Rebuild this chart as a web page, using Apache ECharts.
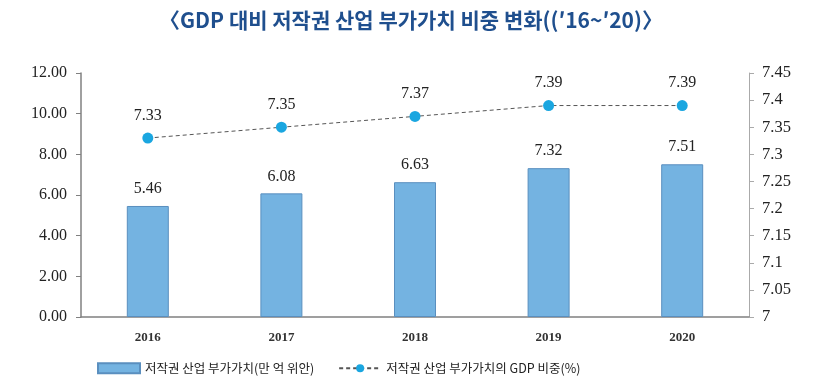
<!DOCTYPE html>
<html><head><meta charset="utf-8">
<script src="https://cdn.jsdelivr.net/npm/echarts@6/dist/echarts.min.js"></script>
<style>html,body{margin:0;padding:0;background:#fff}#c{width:822px;height:383px}</style>
</head><body><div id="c"></div>
<script>
const titleText = '〈GDP 대비 저작권 산업 부가가치 비중 변화((′16~′20)〉';
const categories = ['2016','2017','2018','2019','2020'];
const valueAdded = [5.46, 6.08, 6.63, 7.32, 7.51];
const gdpShare = [7.33, 7.35, 7.37, 7.39, 7.39];
const barName = '저작권 산업 부가가치(만 억 위안)';
const lineName = '저작권 산업 부가가치의 GDP 비중(%)';

const chart = echarts.init(document.getElementById('c'), null, {renderer:'canvas'});
const serif = '"Liberation Serif","Times New Roman",serif';
chart.setOption({
  animation:false,
  title:{text:titleText,left:'center',top:5,textStyle:{fontFamily:'"Noto Sans CJK KR",sans-serif',fontSize:21,fontWeight:'bold',color:'#1f4f8e'}},
  grid:{left:81,right:73,top:73,bottom:66},
  legend:{left:92,top:357,itemWidth:42,itemHeight:10,itemGap:24,
    textStyle:{fontFamily:'"Noto Sans CJK KR",sans-serif',fontSize:12.5,color:'#222'},
    data:[{name:barName,icon:'rect'},{name:lineName}]},
  xAxis:{type:'category',data:categories,
    axisLine:{lineStyle:{color:'#808080',width:1.5}},axisTick:{show:false},
    axisLabel:{fontFamily:serif,fontSize:13,fontWeight:'bold',color:'#333',margin:14}},
  yAxis:[
    {type:'value',min:0,max:12,interval:2,
     axisLine:{show:true,lineStyle:{color:'#808080',width:1.5}},
     axisTick:{show:true,length:5,lineStyle:{color:'#808080'}},
     splitLine:{show:false},
     axisLabel:{fontFamily:serif,fontSize:16,color:'#222',margin:14,formatter:v=>v.toFixed(2)}},
    {type:'value',min:7,max:7.45,interval:0.05,position:'right',
     axisLine:{show:true,lineStyle:{color:'#aaaaaa',width:1}},
     axisTick:{show:true,length:5,lineStyle:{color:'#aaaaaa'}},
     splitLine:{show:false},
     axisLabel:{fontFamily:serif,fontSize:16.5,color:'#222',margin:13,formatter:v=>String(+v.toFixed(2))}}
  ],
  series:[
    {name:barName,type:'bar',data:valueAdded,barWidth:42,yAxisIndex:0,
     itemStyle:{color:'#74b3e1',borderColor:'#5a8fbf',borderWidth:1},
     label:{show:true,position:'top',distance:9,fontFamily:serif,fontSize:16,color:'#222',formatter:p=>p.value.toFixed(2)}},
    {name:lineName,type:'line',data:gdpShare,yAxisIndex:1,symbol:'circle',symbolSize:11,
     lineStyle:{color:'#555',width:1,type:[4,3]},
     itemStyle:{color:'#1aa6e0'},
     label:{show:true,position:'top',distance:9,fontFamily:serif,fontSize:16,color:'#222',formatter:p=>p.value.toFixed(2)}}
  ]
});
</script></body></html>
